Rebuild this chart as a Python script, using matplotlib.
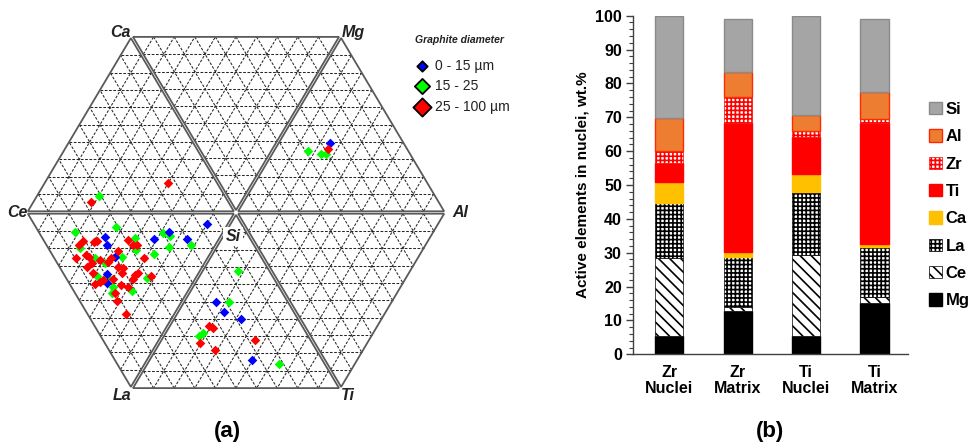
import numpy as np
import matplotlib
matplotlib.use("Agg")
import matplotlib.pyplot as plt

plt.rcParams['font.family'] = ['Liberation Sans', 'DejaVu Sans']
plt.rcParams['hatch.linewidth'] = 1.2

# ---------------- data: (a) hexagonal ternary map, hexagon side = 1 ----------------
corner_labels = ['Al', 'Mg', 'Ca', 'Ce', 'La', 'Ti']
center_label = 'Si'

blue_x = [0.456, -0.636, -0.628, -0.587, -0.625, -0.625, -0.396, -0.327, -0.239, -0.142,
          -0.097, -0.057, 0.023, 0.079]
blue_y = [0.349, -0.121, -0.163, -0.221, -0.308, -0.354, -0.134, -0.096, -0.134, -0.058,
          -0.449, -0.496, -0.534, -0.738]

green_x = [0.351, 0.411, 0.437, -0.663, -0.782, -0.584, -0.757, -0.490, -0.485, -0.555,
           -0.398, -0.684, -0.636, -0.676, -0.628, -0.506, -0.599, -0.604, -0.434, -0.356,
           -0.320, -0.327, -0.220, 0.008, -0.036, -0.180, -0.159, 0.210]
green_y = [0.309, 0.293, 0.293, 0.083, -0.099, -0.074, -0.179, -0.126, -0.188, -0.221,
           -0.208, -0.229, -0.254, -0.318, -0.321, -0.391, -0.374, -0.401, -0.326, -0.101,
           -0.118, -0.171, -0.163, -0.291, -0.449, -0.618, -0.604, -0.758]

red_x = [0.448, -0.328, -0.704, -0.741, -0.688, -0.673, -0.761, -0.526, -0.498, -0.479,
         -0.571, -0.445, -0.777, -0.728, -0.712, -0.701, -0.660, -0.620, -0.608, -0.722,
         -0.571, -0.547, -0.555, -0.696, -0.644, -0.595, -0.684, -0.660, -0.560, -0.523,
         -0.587, -0.490, -0.474, -0.502, -0.414, -0.579, -0.534,
         -0.129, -0.110, -0.175, -0.102, 0.092]
red_y = [0.316, 0.149, 0.054, -0.141, -0.146, -0.141, -0.163, -0.138, -0.163, -0.163,
         -0.191, -0.229, -0.226, -0.213, -0.221, -0.254, -0.238, -0.246, -0.229, -0.271,
         -0.271, -0.279, -0.304, -0.301, -0.338, -0.334, -0.359, -0.346, -0.363, -0.371,
         -0.404, -0.313, -0.304, -0.334, -0.318, -0.441, -0.508,
         -0.568, -0.579, -0.654, -0.688, -0.638]

size_labels = ['0 - 15 µm', '15 - 25', '25 - 100 µm']

# ---------------- data: (b) stacked bars ----------------
samples = ['Zr\nNuclei', 'Zr\nMatrix', 'Ti\nNuclei', 'Ti\nMatrix']
elements = ['Mg', 'Ce', 'La', 'Ca', 'Ti', 'Zr', 'Al', 'Si']
Mg = [5.5, 12.8, 5.5, 15.2]
Ce = [22.9, 1.1, 23.8, 1.8]
La = [16.2, 14.9, 18.7, 14.8]
Ca = [6.3, 1.5, 5.2, 0.8]
Ti = [5.7, 38.1, 10.9, 35.8]
Zr = [3.3, 7.7, 1.9, 1.0]
Al = [9.8, 7.4, 4.7, 8.2]
Si = [30.3, 15.4, 29.3, 21.3]

fig = plt.figure(figsize=(9.69, 4.46), dpi=100)

# ================= (a) =================
ax1 = fig.add_axes([0, 0, 600 / 969, 1])
ax1.set_xlim(-1.1456, 1.767)
ax1.set_ylim(-1.1675, 1.0625)
ax1.axis('off')

ang = np.radians(np.arange(6) * 60)
hx, hy = np.cos(ang), np.sin(ang)
gap = 0.012
for i in range(6):
    j = (i + 1) % 6
    mid = np.radians(i * 60 + 30)
    dx, dy = gap * np.cos(mid), gap * np.sin(mid)
    P = np.array([[dx, dy], [hx[i] + dx, hy[i] + dy], [hx[j] + dx, hy[j] + dy]])
    # triangular grid, 10 divisions, parallel to each side
    for a in range(3):
        A, B, C = P[a], P[(a + 1) % 3], P[(a + 2) % 3]
        for k in range(1, 10):
            t = k / 10
            p1 = A + t * (B - A)
            p2 = A + t * (C - A)
            ax1.plot([p1[0], p2[0]], [p1[1], p2[1]], color='#262626', lw=0.75,
                     dashes=(2.6, 1.5), zorder=1)
    ax1.fill(P[:, 0], P[:, 1], facecolor='none', edgecolor='#5a5a5a', lw=1.3, zorder=2)

ax1.scatter(green_x, green_y, marker='D', s=24, color='#00ff00', linewidths=0, zorder=3)
ax1.scatter(blue_x, blue_y, marker='D', s=24, color='#0000ff', linewidths=0, zorder=4)
ax1.scatter(red_x, red_y, marker='D', s=24, color='#ff0000', linewidths=0, zorder=5)

lab_pos = {'Al': (1.087, 0.0), 'Mg': (0.568, 0.90), 'Ca': (-0.563, 0.90),
           'Ce': (-1.063, 0.0), 'La': (-0.553, -0.915), 'Ti': (0.544, -0.915)}
for name in corner_labels:
    x, y = lab_pos[name]
    ax1.text(x, y, name, fontsize=11.5, fontweight='bold', style='italic',
             ha='center', va='center', color='#222222')
ax1.text(-0.015, -0.118, center_label, fontsize=11.5, fontweight='bold', style='italic',
         ha='center', va='center', color='#222222', zorder=6,
         bbox=dict(facecolor='white', edgecolor='none', pad=1.5))

# legend of (a)
ax1.text(0.869, 0.8625, 'Graphite diameter', fontsize=7.5, fontweight='bold',
         style='italic', ha='left', va='center', color='#222222')
leg_y = [0.7325, 0.6325, 0.5275]
leg_c = ['#0000ff', '#00ff00', '#ff0000']
leg_s = [28, 60, 86]
for yy, c, s, lab in zip(leg_y, leg_c, leg_s, size_labels):
    ax1.scatter([0.903], [yy], marker='D', s=s, color=c, edgecolors='black',
                linewidths=1.3, zorder=6)
    ax1.text(0.966, yy, lab, fontsize=10, ha='left', va='center', color='#222222')

fig.text(227 / 969, 1 - 432 / 446, '(a)', fontsize=16, fontweight='bold',
         ha='center', va='center')

# ================= (b) =================
ax2 = fig.add_axes([633 / 969, (446 - 354.3) / 446, 275 / 969, 338.6 / 446])
x = np.arange(len(samples))
w = 0.41
styles = {
    'Mg': dict(color='black', edgecolor='black'),
    'Ce': dict(color='white', edgecolor='black', hatch='\\\\\\', linewidth=0.5),
    'La': dict(color='white', edgecolor='black', hatch='++++', linewidth=0.5),
    'Ca': dict(color='#ffc000', edgecolor='#ffc000'),
    'Ti': dict(color='#ff0000', edgecolor='#ff0000'),
    'Zr': dict(color='white', edgecolor='#ff0000', hatch='++++', linewidth=0.5),
    'Al': dict(color='#ed7d31', edgecolor='#ff2a00', linewidth=1.0),
    'Si': dict(color='#a5a5a5', edgecolor='#8a8a8a', linewidth=1.0),
}
values = {'Mg': Mg, 'Ce': Ce, 'La': La, 'Ca': Ca, 'Ti': Ti, 'Zr': Zr, 'Al': Al, 'Si': Si}
bottom = np.zeros(len(samples))
handles = []
for el in elements:
    b = ax2.bar(x, values[el], w, bottom=bottom, label=el, **styles[el])
    handles.append(b)
    bottom += np.array(values[el])

ax2.set_xlim(-0.53, 3.49)
ax2.set_ylim(0, 100)
ax2.set_yticks(np.arange(0, 101, 10))
ax2.set_yticks(np.arange(0, 101, 2), minor=True)
ax2.set_xticks(x)
ax2.set_xticklabels(samples, fontsize=11.5, fontweight='bold', linespacing=1.05)
ax2.tick_params(axis='x', length=0, pad=8)
ax2.tick_params(axis='y', which='major', length=5, width=1, color='#404040',
                labelsize=11.5, pad=3)
ax2.tick_params(axis='y', which='minor', length=3, width=0.8, color='#404040')
for lab in ax2.get_yticklabels():
    lab.set_fontweight('bold')
for s in ['top', 'right']:
    ax2.spines[s].set_visible(False)
for s in ['left', 'bottom']:
    ax2.spines[s].set_color('#404040')
    ax2.spines[s].set_linewidth(1.0)
ax2.set_ylabel('Active elements in nuclei, wt.%', fontsize=11, fontweight='bold',
               labelpad=4)

leg = ax2.legend(handles[::-1], elements[::-1], loc='upper left',
                 bbox_to_anchor=(929 / 969, 1 - 102 / 446), bbox_transform=fig.transFigure,
                 frameon=False, prop={'weight': 'bold', 'size': 12},
                 handlelength=0.75, handleheight=0.75, handletextpad=0.25,
                 labelspacing=0.74, borderpad=0, borderaxespad=0)

fig.text(770 / 969, 1 - 432 / 446, '(b)', fontsize=16, fontweight='bold',
         ha='center', va='center')

fig.savefig('out.png', dpi=100)
